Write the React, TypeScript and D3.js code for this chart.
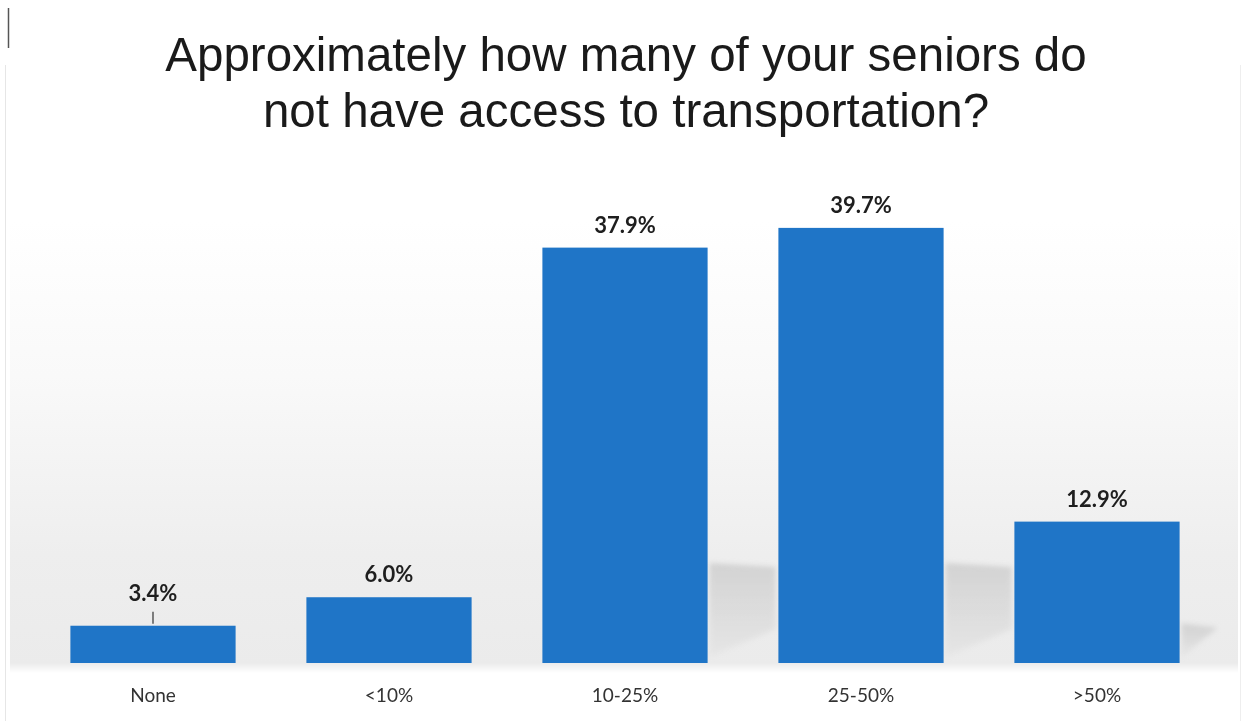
import React from "react";
import * as d3 from "d3";

const categories = ["None", "<10%", "10-25%", "25-50%", ">50%"];
const values = [3.4, 6.0, 37.9, 39.7, 12.9];
const valueLabels = ["3.4%", "6.0%", "37.9%", "39.7%", "12.9%"];
const titleLines = [
  "Approximately how many of your seniors do",
  "not have access to transportation?",
];

const W = 1247;
const H = 721;
const BASE = 663;

export default function App() {
  const x = d3
    .scaleBand<string>()
    .domain(categories)
    .range([35, 1215])
    .paddingInner(0.3)
    .paddingOuter(0.15);
  const y = d3.scaleLinear().domain([0, 40]).range([BASE, BASE - 438.4]);
  const bw = x.bandwidth();
  const barColor = "#1f75c7";

  return (
    <svg
      width={W}
      height={H}
      style={{ position: "absolute", left: 0, top: 0, background: "#fff" }}
    >
      <defs>
        <linearGradient id="bg" x1="0" y1="0" x2="0" y2="1">
          <stop offset="0" stopColor="#ffffff" />
          <stop offset="0.35" stopColor="#f9f9f9" />
          <stop offset="0.75" stopColor="#eeeeee" />
          <stop offset="1" stopColor="#ebebeb" />
        </linearGradient>
        <linearGradient id="sh" x1="0" y1="0" x2="0" y2="1">
          <stop offset="0" stopColor="#c4c4c4" />
          <stop offset="1" stopColor="#e4e4e4" />
        </linearGradient>
        <filter id="blur" x="-10%" y="-10%" width="120%" height="120%">
          <feGaussianBlur stdDeviation="2.5" />
        </filter>
        <linearGradient id="fadeBottom" x1="0" y1="0" x2="0" y2="1">
          <stop offset="0" stopColor="#ebebeb" />
          <stop offset="1" stopColor="#ffffff" />
        </linearGradient>
      </defs>
      <rect x={0} y={0} width={W} height={H} fill="#fff" />
      <rect x={10} y={220} width={1228} height={445} fill="url(#bg)" />
      <rect x={10} y={663} width={1228} height={10} fill="url(#fadeBottom)" />
      {/* edge lines */}
      <line x1={8.5} y1={8} x2={8.5} y2={48} stroke="#555" strokeWidth={1.5} />
      <line x1={5.5} y1={65} x2={5.5} y2={721} stroke="#e6e6e6" strokeWidth={1} />
      <line x1={1240.5} y1={65} x2={1240.5} y2={721} stroke="#eeeeee" strokeWidth={1} />

      {/* soft shadows behind bars */}
      <g filter="url(#blur)">
        {categories.map((c, i) => {
          const v = values[i];
          if (v < 10) return null;
          const r = (x(c) as number) + bw + 2;
          const top = Math.max(y(v) + (BASE - y(v)) * 0.72, BASE - 100);
          const w = Math.min(66, 1216 - r);
          const pts = [
            [r, top],
            [r + w, top + 4],
            [r + w, BASE - 34],
            [r, BASE - 6],
          ]
            .map((p) => p.join(","))
            .join(" ");
          return <polygon key={"s" + c} points={pts} fill="url(#sh)" opacity={0.65} />;
        })}
      </g>

      {/* title */}
      {titleLines.map((t, i) => (
        <text
          key={t}
          x={626}
          y={71 + i * 56}
          textAnchor="middle"
          fontFamily="'Liberation Sans', Arial, sans-serif"
          fontSize={47.5}
          fill="#1a1a1a"
        >
          {t}
        </text>
      ))}

      {/* bars */}
      {categories.map((c, i) => (
        <rect
          key={c}
          x={x(c)}
          y={y(values[i])}
          width={bw}
          height={BASE - y(values[i])}
          fill={barColor}
        />
      ))}

      {/* value labels */}
      {categories.map((c, i) => {
        const cx = (x(c) as number) + bw / 2;
        const raised = values[i] < 5;
        const ty = y(values[i]) - (raised ? 25 : 15);
        return (
          <g key={"l" + c}>
            {raised && (
              <line
                x1={cx}
                x2={cx}
                y1={ty + 11}
                y2={y(values[i]) - 2}
                stroke="#333"
                strokeWidth={1.2}
              />
            )}
            <text
              x={cx}
              y={ty}
              textAnchor="middle"
              fontFamily="Lato, 'Open Sans', sans-serif"
              fontWeight="bold"
              fontSize={22}
              fill="#1e1e1e"
            >
              {valueLabels[i]}
            </text>
          </g>
        );
      })}

      {/* category labels */}
      {categories.map((c) => (
        <text
          key={"c" + c}
          x={(x(c) as number) + bw / 2}
          y={702}
          textAnchor="middle"
          fontFamily="Lato, 'Open Sans', sans-serif"
          fontSize={19}
          fill="#333"
        >
          {c}
        </text>
      ))}
    </svg>
  );
}
